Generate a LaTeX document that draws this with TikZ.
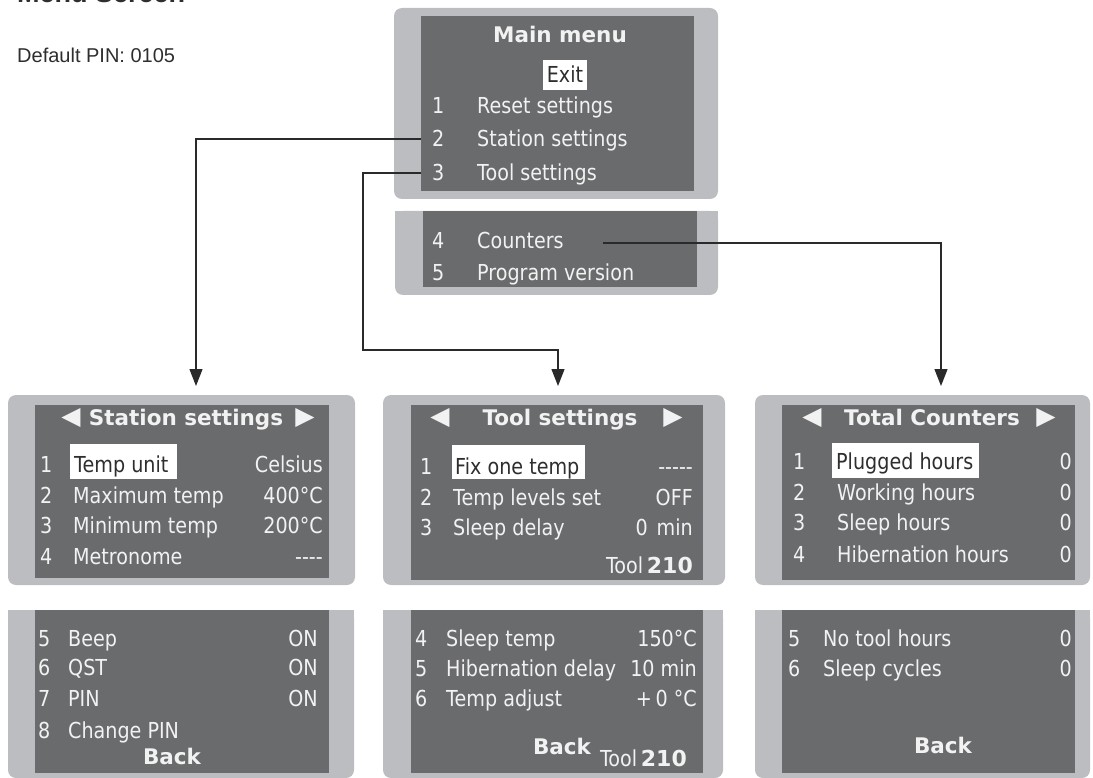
\documentclass[tikz,border=0pt]{standalone}
\usepackage{fontspec}
\setmainfont{Liberation Sans}
\newfontfamily\lcd[FakeStretch=0.87]{DejaVu Sans}
\newfontfamily\lcdh{DejaVu Sans}
\newfontfamily\lcdsym{DejaVu Sans}
\usetikzlibrary{arrows.meta,calc}
\definecolor{screengray}{HTML}{6A6B6D}
\definecolor{framegray}{HTML}{BCBDC0}
\definecolor{lcdtext}{HTML}{F2F2F2}
\definecolor{darktext}{HTML}{2E2E2E}
\definecolor{linecol}{HTML}{2A2A2A}
\begin{document}
\begin{tikzpicture}[x=1pt,y=-1pt,
  frame/.style={fill=framegray, rounded corners=8pt},
  screen/.style={fill=screengray, inner sep=0pt, outer sep=0pt, anchor=north west, draw=none},
  t/.style={font=\lcd\fontsize{22}{26}\selectfont, text=lcdtext, inner sep=0pt, text height=16pt, text depth=0pt, anchor=west},
  v/.style={t, anchor=east},
  hl/.style={t, text=darktext},
  hdr/.style={font=\lcdh\bfseries\fontsize{21.5}{25}\selectfont, text=lcdtext, inner sep=0pt, text height=15.5pt, text depth=0pt, anchor=center},
  tri/.style={font=\lcdsym\fontsize{25}{28}\selectfont, text=lcdtext, inner sep=0pt, anchor=center},
  conn/.style={draw=linecol, line width=1.3pt, -{Triangle[length=17pt,width=13pt]}}
]
\useasboundingbox (0,0) rectangle (1093,778);

% title and PIN
\begin{scope}
\clip (0,0) rectangle (1093,778);
\node[anchor=base west, inner sep=0pt, font=\bfseries\fontsize{27}{30}\selectfont, text=darktext] (title) at (17,3) {Menu Screen};
\end{scope}
\node[anchor=base west, inner sep=0pt, font=\fontsize{20}{24}\selectfont, text=darktext] (pin) at (17,63) {Default PIN: 0105};

% ---------- Main menu ----------
\fill[frame] (394,8) rectangle (718,199);
\node[screen, minimum width=273pt, minimum height=175pt] (mainin) at (421,16) {};
\node[hdr] (mtitle) at (560,35) {Main menu};
\fill[white] (543,60) rectangle (587,90);
\node[hl, anchor=center] (exit) at (565,75) {Exit};
\node[t] (n1) at (432,106) {1};
\node[t] (l1) at (477,106) {Reset settings};
\node[t] (n2) at (432,139) {2};
\node[t] (l2) at (477,139) {Station settings};
\node[t] (n3) at (432,173) {3};
\node[t] (l3) at (477,173) {Tool settings};

\fill[frame] (395,211) rectangle (718,295);
\fill[framegray] (395,211) rectangle (718,240);
\node[screen, minimum width=274pt, minimum height=76pt] (mainlow) at (423,211) {};
\node[t] (n4) at (432,241) {4};
\node[t] (l4) at (477,241) {Counters};
\node[t] (n5) at (432,273) {5};
\node[t] (l5) at (477,273) {Program version};

% ---------- Station settings ----------
\fill[frame] (8,395) rectangle (355,585);
\node[screen, minimum width=294pt, minimum height=173pt] (stat) at (35,405) {};
\node[tri] (sL) at (71,418) {◀};
\node[hdr] (sT) at (186,418) {Station settings};
\node[tri] (sR) at (305,418) {▶};
\fill[white] (70,444) rectangle (177,479);
\node[t] (s1n) at (40,464) {1};
\node[hl] (s1l) at (74,464) {Temp unit};
\node[v] (s1v) at (323,464) {Celsius};
\node[t] (s2n) at (40,495) {2};
\node[t] (s2l) at (73,495) {Maximum temp};
\node[v] (s2v) at (323,495) {400°C};
\node[t] (s3n) at (40,525) {3};
\node[t] (s3l) at (73,525) {Minimum temp};
\node[v] (s3v) at (323,525) {200°C};
\node[t] (s4n) at (40,556) {4};
\node[t] (s4l) at (73,556) {Metronome};
\node[v] (s4v) at (323,556) {----};

\fill[frame] (8,610) rectangle (354,778);
\fill[framegray] (8,610) rectangle (354,650);
\node[screen, minimum width=294pt, minimum height=163pt] (statlow) at (35,610) {};
\node[t] (s5n) at (38,638) {5};
\node[t] (s5l) at (68,638) {Beep};
\node[v] (s5v) at (318,638) {ON};
\node[t] (s6n) at (38,667) {6};
\node[t] (s6l) at (68,667) {QST};
\node[v] (s6v) at (318,667) {ON};
\node[t] (s7n) at (38,698) {7};
\node[t] (s7l) at (68,698) {PIN};
\node[v] (s7v) at (318,698) {ON};
\node[t] (s8n) at (38,730) {8};
\node[t] (s8l) at (68,730) {Change PIN};
\node[hdr] (sBack) at (172,757) {Back};

% ---------- Tool settings ----------
\fill[frame] (383,395) rectangle (725,585);
\node[screen, minimum width=292pt, minimum height=175pt] (tool) at (411,405) {};
\node[tri] (tL) at (440,418) {◀};
\node[hdr] (tT) at (560,418) {Tool settings};
\node[tri] (tR) at (673,418) {▶};
\fill[white] (452,445) rectangle (585,479);
\node[t] (t1n) at (420,466) {1};
\node[hl] (t1l) at (455,466) {Fix one temp};
\node[v] (t1v) at (693,466) {-----};
\node[t] (t2n) at (420,497) {2};
\node[t] (t2l) at (453,497) {Temp levels set};
\node[v] (t2v) at (693,497) {OFF};
\node[t] (t3n) at (420,527) {3};
\node[t] (t3l) at (453,527) {Sleep delay};
\node[v] (t3v) at (693,527) {0\hspace{9pt}min};
\node[v] (tTool) at (693,565) {Tool\,{\lcdh\bfseries 210}};

\fill[frame] (383,610) rectangle (723,778);
\fill[framegray] (383,610) rectangle (723,650);
\node[screen, minimum width=292pt, minimum height=163pt] (toollow) at (411,610) {};
\node[t] (t4n) at (415,638) {4};
\node[t] (t4l) at (446,638) {Sleep temp};
\node[v] (t4v) at (697,638) {150°C};
\node[t] (t5n) at (415,668) {5};
\node[t] (t5l) at (446,668) {Hibernation delay};
\node[v] (t5v) at (697,668) {10 min};
\node[t] (t6n) at (415,698) {6};
\node[t] (t6l) at (446,698) {Temp adjust};
\node[v] (t6v) at (697,698) {+\,0 °C};
\node[hdr] (tBack) at (562,747) {Back};
\node[v] (tTool2) at (687,758) {Tool\,{\lcdh\bfseries 210}};

% ---------- Total Counters ----------
\fill[frame] (755,395) rectangle (1090,585);
\node[screen, minimum width=293pt, minimum height=175pt] (cnt) at (782,405) {};
\node[tri] (cL) at (812,418) {◀};
\node[hdr] (cT) at (932,418) {Total Counters};
\node[tri] (cR) at (1046,418) {▶};
\fill[white] (832,443) rectangle (979,478);
\node[t] (c1n) at (793,461) {1};
\node[hl] (c1l) at (836,461) {Plugged hours};
\node[v] (c1v) at (1072,461) {0};
\node[t] (c2n) at (793,492) {2};
\node[t] (c2l) at (837,492) {Working hours};
\node[v] (c2v) at (1072,492) {0};
\node[t] (c3n) at (793,522) {3};
\node[t] (c3l) at (837,522) {Sleep hours};
\node[v] (c3v) at (1072,522) {0};
\node[t] (c4n) at (793,554) {4};
\node[t] (c4l) at (837,554) {Hibernation hours};
\node[v] (c4v) at (1072,554) {0};

\fill[frame] (755,610) rectangle (1090,778);
\fill[framegray] (755,610) rectangle (1090,650);
\node[screen, minimum width=293pt, minimum height=163pt] (cntlow) at (782,610) {};
\node[t] (c5n) at (788,638) {5};
\node[t] (c5l) at (823,638) {No tool hours};
\node[v] (c5v) at (1072,638) {0};
\node[t] (c6n) at (788,668) {6};
\node[t] (c6l) at (823,668) {Sleep cycles};
\node[v] (c6v) at (1072,668) {0};
\node[hdr] (cBack) at (943,746) {Back};

% ---------- connectors ----------
\coordinate (stIn) at (196,386);
\coordinate (tbend) at (363,350);
\coordinate (toolIn) at (558,386);
\coordinate (cStart) at (603,243);
\coordinate (ctIn) at (941,386);
\draw[conn] (mainin.west |- n2) -| (stIn);
\draw[conn] (mainin.west |- n3) -| (tbend) -| (toolIn);
\draw[conn] (cStart) -| (ctIn);
\end{tikzpicture}
\end{document}
